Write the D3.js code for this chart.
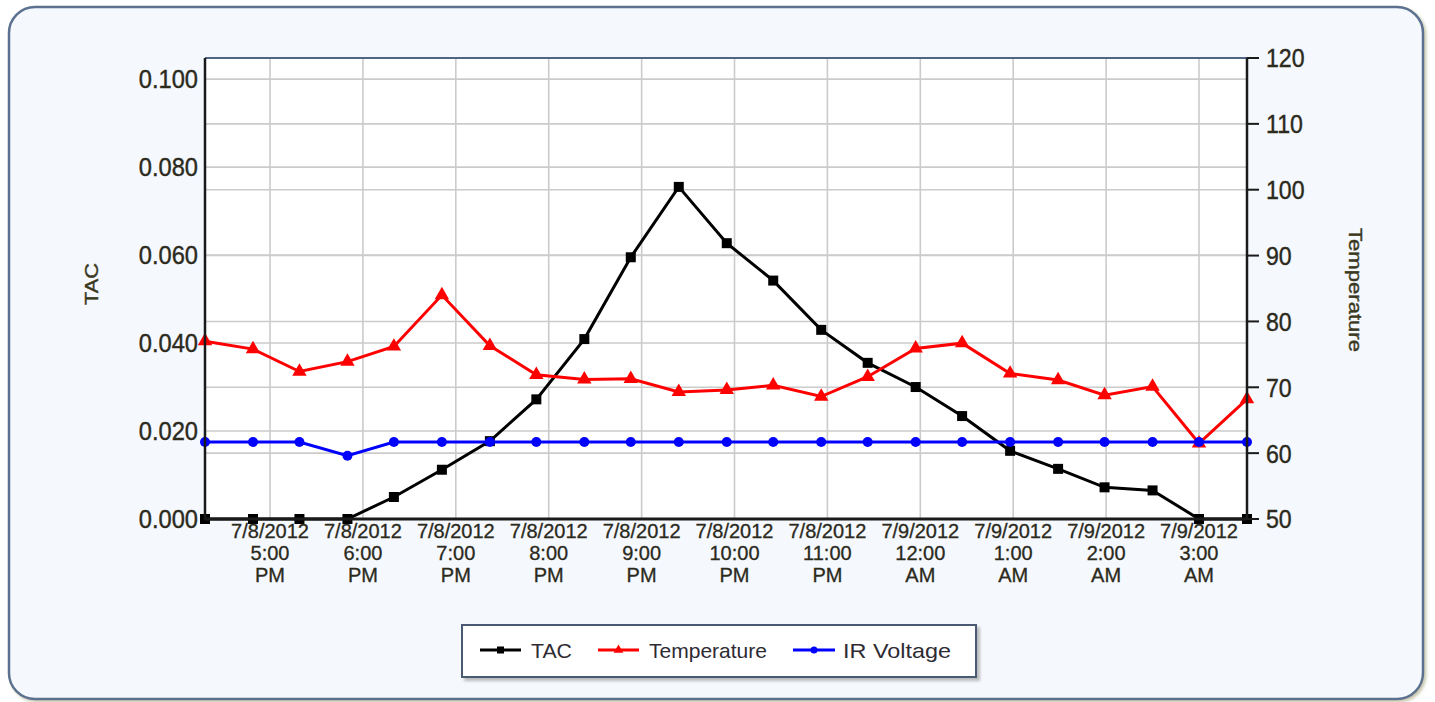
<!DOCTYPE html>
<html>
<head>
<meta charset="utf-8">
<script src="https://cdn.jsdelivr.net/npm/d3@7"></script>
<style>
  html, body { margin: 0; padding: 0; background: #ffffff; }
  svg { display: block; }
  text { font-family: Arial, "Liberation Sans", sans-serif; }
</style>
</head>
<body>
<svg id="chart" width="1435" height="702"></svg>
<script>
// ---------------- data ----------------
const times = [
  "2012-07-08T16:18", "2012-07-08T16:49", "2012-07-08T17:19", "2012-07-08T17:50",
  "2012-07-08T18:20", "2012-07-08T18:51", "2012-07-08T19:22", "2012-07-08T19:52",
  "2012-07-08T20:23", "2012-07-08T20:53", "2012-07-08T21:24", "2012-07-08T21:55",
  "2012-07-08T22:25", "2012-07-08T22:56", "2012-07-08T23:26", "2012-07-08T23:57",
  "2012-07-09T00:27", "2012-07-09T00:58", "2012-07-09T01:29", "2012-07-09T01:59",
  "2012-07-09T02:30", "2012-07-09T03:00", "2012-07-09T03:31"
];
const tac = [0, 0, 0, 0, 0.005, 0.0112, 0.0177, 0.0272, 0.0409, 0.0595, 0.0755, 0.0627,
  0.0542, 0.0430, 0.0355, 0.0300, 0.0234, 0.0155, 0.0114, 0.0072, 0.0065, 0, 0];
const temperature = [77.0, 75.8, 72.4, 73.9, 76.2, 84.0, 76.3, 71.9, 71.2, 71.3, 69.3, 69.6,
  70.3, 68.6, 71.6, 75.9, 76.7, 72.1, 71.1, 68.8, 70.1, 61.5, 68.2];
const irVoltage = [61.7, 61.7, 61.7, 59.6, 61.7, 61.7, 61.7, 61.7, 61.7, 61.7, 61.7, 61.7,
  61.7, 61.7, 61.7, 61.7, 61.7, 61.7, 61.7, 61.7, 61.7, 61.7, 61.7];
const leftTicks = [0, 0.02, 0.04, 0.06, 0.08, 0.1];
const rightTicks = [50, 60, 70, 80, 90, 100, 110, 120];
const xTickStart = "2012-07-08T17:00";
const xTickEnd = "2012-07-09T03:00";
const seriesNames = ["TAC", "Temperature", "IR Voltage"];
const leftTitle = "TAC";
const rightTitle = "Temperature";

// ---------------- layout ----------------
const parse = d3.timeParse("%Y-%m-%dT%H:%M");
const dates = times.map(parse);
const plot = { left: 205, right: 1247, top: 58, bottom: 519 };

const x = d3.scaleTime().domain(d3.extent(dates)).range([plot.left, plot.right]);
const yL = d3.scaleLinear().domain([0, 0.1048]).range([plot.bottom, plot.top]);
const yR = d3.scaleLinear().domain([50, 120]).range([plot.bottom, plot.top]);

const svg = d3.select("#chart");
const defs = svg.append("defs");
const f = defs.append("filter").attr("id", "shadow").attr("x", "-5%").attr("y", "-5%").attr("width", "110%").attr("height", "115%");
f.append("feDropShadow").attr("dx", 2).attr("dy", 2).attr("stdDeviation", 1.5).attr("flood-color", "#b8b89a").attr("flood-opacity", 0.8);
const f2 = defs.append("filter").attr("id", "lshadow").attr("x", "-5%").attr("y", "-20%").attr("width", "110%").attr("height", "150%");
f2.append("feDropShadow").attr("dx", 3).attr("dy", 3).attr("stdDeviation", 1.5).attr("flood-color", "#a0a0a0").attr("flood-opacity", 0.7);

// outer frame
svg.append("rect")
  .attr("x", 9).attr("y", 7).attr("width", 1414).attr("height", 692)
  .attr("rx", 26).attr("ry", 26)
  .attr("fill", "#f5f8fd").attr("stroke", "#5b7190").attr("stroke-width", 2.5)
  .attr("filter", "url(#shadow)");

// plot background
svg.append("rect")
  .attr("x", plot.left).attr("y", plot.top)
  .attr("width", plot.right - plot.left).attr("height", plot.bottom - plot.top)
  .attr("fill", "#ffffff");

// gridlines
const xTicks = d3.timeHour.range(parse(xTickStart), d3.timeHour.offset(parse(xTickEnd), 1));
const grid = svg.append("g").attr("stroke", "#cbcbcb").attr("stroke-width", 1.6);
grid.selectAll("line.v").data(xTicks).join("line").attr("class", "v")
  .attr("x1", d => x(d)).attr("x2", d => x(d)).attr("y1", plot.top).attr("y2", plot.bottom);
grid.selectAll("line.hl").data(leftTicks).join("line").attr("class", "hl")
  .attr("x1", plot.left).attr("x2", plot.right).attr("y1", d => yL(d)).attr("y2", d => yL(d));
grid.selectAll("line.hr").data(rightTicks).join("line").attr("class", "hr")
  .attr("x1", plot.left).attr("x2", plot.right).attr("y1", d => yR(d)).attr("y2", d => yR(d));

// frame lines of plot
svg.append("line").attr("x1", plot.left).attr("x2", plot.right).attr("y1", plot.top).attr("y2", plot.top)
  .attr("stroke", "#4f6584").attr("stroke-width", 2);

// series
const tacData = dates.map((d, i) => ({ d, v: tac[i] }));
const tempData = dates.map((d, i) => ({ d, v: temperature[i] }));
const irData = dates.map((d, i) => ({ d, v: irVoltage[i] }));

const lineL = d3.line().x(p => x(p.d)).y(p => yL(p.v));
const lineR = d3.line().x(p => x(p.d)).y(p => yR(p.v));

// TAC
svg.append("path").datum(tacData).attr("d", lineL)
  .attr("fill", "none").attr("stroke", "#000000").attr("stroke-width", 3);
svg.append("g").selectAll("rect").data(tacData).join("rect")
  .attr("x", p => x(p.d) - 5).attr("y", p => yL(p.v) - 5)
  .attr("width", 10).attr("height", 10).attr("fill", "#000000");

// Temperature
svg.append("path").datum(tempData).attr("d", lineR)
  .attr("fill", "none").attr("stroke", "#ff0000").attr("stroke-width", 3);
const tri = d3.symbol().type(d3.symbolTriangle).size(90);
svg.append("g").selectAll("path").data(tempData).join("path")
  .attr("d", tri)
  .attr("transform", p => `translate(${x(p.d)},${yR(p.v)})`)
  .attr("fill", "#ff0000");

// IR Voltage
svg.append("path").datum(irData).attr("d", lineR)
  .attr("fill", "none").attr("stroke", "#0000ff").attr("stroke-width", 3);
svg.append("g").selectAll("circle").data(irData).join("circle")
  .attr("cx", p => x(p.d)).attr("cy", p => yR(p.v)).attr("r", 5)
  .attr("fill", "#0000ff");

// axes lines
const axisCol = "#1a1a1a";
svg.append("line").attr("x1", plot.left).attr("x2", plot.left).attr("y1", plot.top).attr("y2", plot.bottom + 1)
  .attr("stroke", axisCol).attr("stroke-width", 2.5);
svg.append("line").attr("x1", plot.right).attr("x2", plot.right).attr("y1", plot.top).attr("y2", plot.bottom + 1)
  .attr("stroke", axisCol).attr("stroke-width", 2.5);
svg.append("line").attr("x1", plot.left).attr("x2", plot.right).attr("y1", plot.bottom).attr("y2", plot.bottom)
  .attr("stroke", axisCol).attr("stroke-width", 3);

const textCol = "#2b2a1c";

// left axis labels
const fmtL = d3.format(".3f");
svg.append("g").selectAll("text").data(leftTicks).join("text")
  .attr("x", 198).attr("y", d => yL(d)).attr("dy", "0.36em")
  .attr("text-anchor", "end").attr("font-size", 26).attr("fill", textCol)
  .attr("stroke", textCol).attr("stroke-width", 0.4)
  .text(d => fmtL(d))
  .each(function () { const w = this.getComputedTextLength(); d3.select(this).attr("textLength", w * 0.91).attr("lengthAdjust", "spacingAndGlyphs"); });

// right axis ticks + labels
svg.append("g").selectAll("line").data(rightTicks).join("line")
  .attr("x1", plot.right).attr("x2", plot.right + 12).attr("y1", d => yR(d)).attr("y2", d => yR(d))
  .attr("stroke", axisCol).attr("stroke-width", 2);
svg.append("g").selectAll("text").data(rightTicks).join("text")
  .attr("x", 1266).attr("y", d => yR(d)).attr("dy", "0.36em")
  .attr("text-anchor", "start").attr("font-size", 26).attr("fill", textCol)
  .attr("stroke", textCol).attr("stroke-width", 0.4)
  .text(d => d)
  .each(function () { const w = this.getComputedTextLength(); d3.select(this).attr("textLength", w * 0.89).attr("lengthAdjust", "spacingAndGlyphs"); });

// x axis labels (3 lines)
const fDate = d3.timeFormat("%-m/%-d/%Y");
const fTime = d3.timeFormat("%-I:%M");
const fAmPm = d3.timeFormat("%p");
const xl = svg.append("g").selectAll("text").data(xTicks).join("text")
  .attr("text-anchor", "middle").attr("font-size", 20).attr("fill", textCol)
  .attr("stroke", textCol).attr("stroke-width", 0.3);
xl.append("tspan").attr("x", d => x(d)).attr("y", 538).text(d => fDate(d));
xl.append("tspan").attr("x", d => x(d)).attr("y", 560).text(d => fTime(d));
xl.append("tspan").attr("x", d => x(d)).attr("y", 582).text(d => fAmPm(d));

// axis titles
svg.append("text")
  .attr("transform", "translate(98,284) rotate(-90)")
  .attr("text-anchor", "middle").attr("font-size", 18).attr("fill", "#3a3920")
  .attr("stroke", "#3a3920").attr("stroke-width", 0.4)
  .attr("textLength", 42).attr("lengthAdjust", "spacingAndGlyphs")
  .text(leftTitle);
svg.append("text")
  .attr("transform", "translate(1349,290) rotate(90)")
  .attr("text-anchor", "middle").attr("font-size", 19).attr("fill", "#3a3920")
  .attr("stroke", "#3a3920").attr("stroke-width", 0.4)
  .attr("textLength", 124).attr("lengthAdjust", "spacingAndGlyphs")
  .text(rightTitle);

// legend
const lg = svg.append("g");
lg.append("rect").attr("x", 462).attr("y", 625).attr("width", 514).attr("height", 52)
  .attr("fill", "#ffffff").attr("stroke", "#4a5a72").attr("stroke-width", 2)
  .attr("filter", "url(#lshadow)");
const legendItems = [
  { name: seriesNames[0], color: "#000000", x1: 480, x2: 521, tx: 531, tw: 41, shape: "square" },
  { name: seriesNames[1], color: "#ff0000", x1: 598, x2: 639, tx: 649, tw: 118, shape: "triangle" },
  { name: seriesNames[2], color: "#0000ff", x1: 793, x2: 835, tx: 843, tw: 108, shape: "circle" }
];
const ly = 650;
legendItems.forEach(it => {
  lg.append("line").attr("x1", it.x1).attr("x2", it.x2).attr("y1", ly).attr("y2", ly)
    .attr("stroke", it.color).attr("stroke-width", 3);
  const cx = (it.x1 + it.x2) / 2;
  if (it.shape === "square") {
    lg.append("rect").attr("x", cx - 3.5).attr("y", ly - 3.5).attr("width", 7).attr("height", 7).attr("fill", it.color);
  } else if (it.shape === "triangle") {
    lg.append("path").attr("d", d3.symbol().type(d3.symbolTriangle).size(40)).attr("transform", `translate(${cx},${ly})`).attr("fill", it.color);
  } else {
    lg.append("circle").attr("cx", cx).attr("cy", ly).attr("r", 3.5).attr("fill", it.color);
  }
  lg.append("text").attr("x", it.tx).attr("y", ly).attr("dy", "0.36em")
    .attr("font-size", 21).attr("fill", "#2e2b33")
    .attr("textLength", it.tw).attr("lengthAdjust", "spacingAndGlyphs")
    .text(it.name);
});
</script>
</body>
</html>
